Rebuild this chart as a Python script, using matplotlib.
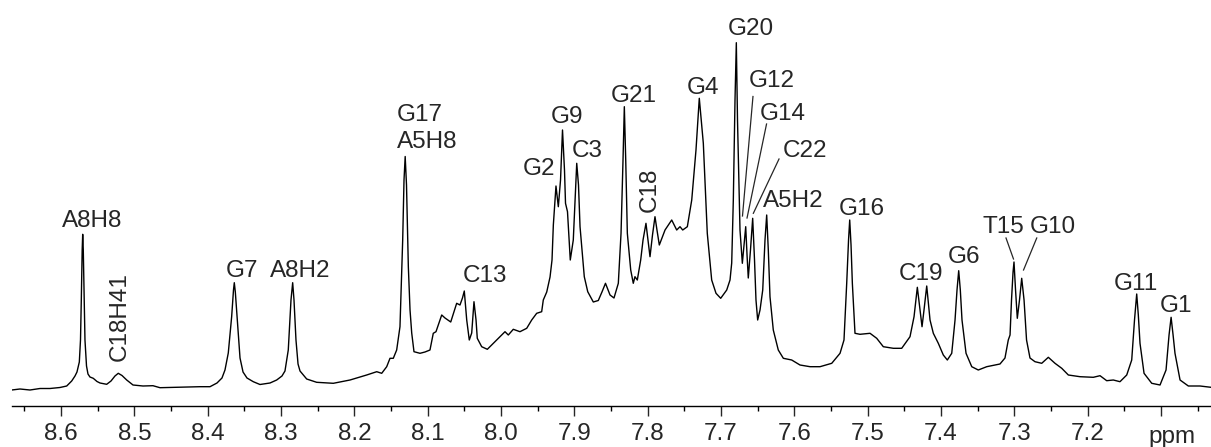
import numpy as np
import matplotlib
matplotlib.use("agg")
import matplotlib.pyplot as plt
from matplotlib.ticker import MultipleLocator, FuncFormatter

plt.rcParams['font.family'] = ['Liberation Sans', 'DejaVu Sans']

# spectrum trace: chemical shift (ppm) and intensity (a.u.)
shift = [
    8.6672, 8.6559, 8.6423, 8.6286, 8.6150, 8.6014, 8.5922, 8.5854, 8.5809, 8.5782,
    8.5750, 8.5734, 8.5723, 8.5711, 8.5704, 8.5696, 8.5684, 8.5673, 8.5652, 8.5632,
    8.5605, 8.5560, 8.5509, 8.5468, 8.5377, 8.5318, 8.5264, 8.5219, 8.5168, 8.5104,
    8.5018, 8.4882, 8.4746, 8.4650, 8.4418, 8.4241, 8.4105, 8.3968, 8.3873, 8.3805,
    8.3764, 8.3719, 8.3673, 8.3648, 8.3637, 8.3623, 8.3596, 8.3559, 8.3518, 8.3464,
    8.3378, 8.3287, 8.3150, 8.3059, 8.2987, 8.2946, 8.2901, 8.2864, 8.2841, 8.2823,
    8.2796, 8.2768, 8.2741, 8.2650, 8.2514, 8.2287, 8.2059, 8.1832, 8.1695, 8.1627,
    8.1559, 8.1514, 8.1469, 8.1423, 8.1378, 8.1341, 8.1323, 8.1307, 8.1289, 8.1264,
    8.1241, 8.1218, 8.1187, 8.1105, 8.1037, 8.0969, 8.0924, 8.0887, 8.0809, 8.0764,
    8.0686, 8.0605, 8.0560, 8.0526, 8.0501, 8.0468, 8.0433, 8.0400, 8.0369, 8.0341,
    8.0324, 8.0264, 8.0187, 8.0059, 7.9946, 7.9901, 7.9833, 7.9742, 7.9650, 7.9582,
    7.9514, 7.9446, 7.9424, 7.9377, 7.9332, 7.9305, 7.9287, 7.9251, 7.9219, 7.9189,
    7.9162, 7.9135, 7.9121, 7.9094, 7.9056, 7.9015, 7.8968, 7.8944, 7.8923, 7.8865,
    7.8818, 7.8742, 7.8674, 7.8624, 7.8576, 7.8514, 7.8460, 7.8401, 7.8364, 7.8337,
    7.8319, 7.8300, 7.8278, 7.8232, 7.8197, 7.8174, 7.8142, 7.8096, 7.8064, 7.8024,
    7.7996, 7.7969, 7.7935, 7.7901, 7.7874, 7.7842, 7.7764, 7.7673, 7.7605, 7.7560,
    7.7523, 7.7460, 7.7400, 7.7342, 7.7297, 7.7242, 7.7188, 7.7128, 7.7069, 7.7005,
    7.6923, 7.6878, 7.6855, 7.6833, 7.6810, 7.6792, 7.6776, 7.6762, 7.6742, 7.6710,
    7.6687, 7.6664, 7.6646, 7.6629, 7.6599, 7.6569, 7.6544, 7.6524, 7.6501, 7.6469,
    7.6432, 7.6401, 7.6378, 7.6356, 7.6333, 7.6288, 7.6220, 7.6151, 7.6037, 7.5924,
    7.5787, 7.5651, 7.5491, 7.5378, 7.5324, 7.5287, 7.5262, 7.5246, 7.5228, 7.5210,
    7.5174, 7.5106, 7.4969, 7.4878, 7.4788, 7.4651, 7.4537, 7.4424, 7.4369, 7.4324,
    7.4287, 7.4260, 7.4233, 7.4196, 7.4151, 7.4106, 7.4038, 7.3970, 7.3915, 7.3855,
    7.3810, 7.3783, 7.3760, 7.3738, 7.3715, 7.3660, 7.3582, 7.3493, 7.3378, 7.3197,
    7.3129, 7.3084, 7.3060, 7.3040, 7.3019, 7.3006, 7.2985, 7.2961, 7.2931, 7.2901,
    7.2869, 7.2835, 7.2788, 7.2720, 7.2628, 7.2538, 7.2447, 7.2355, 7.2265, 7.2106,
    7.1925, 7.1833, 7.1742, 7.1652, 7.1561, 7.1469, 7.1401, 7.1363, 7.1333, 7.1311,
    7.1288, 7.1233, 7.1128, 7.1015, 7.0933, 7.0892, 7.0864, 7.0837, 7.0811, 7.0742,
    7.0629, 7.0470, 7.0320,
]
intensity = [
    16, 17, 16, 17.5, 17.5, 18.5, 20, 25, 30, 34,
    44, 66, 106, 156, 171.7, 156, 106, 66, 40, 32,
    29, 27.7, 24.5, 23, 21.7, 25, 30, 32.7, 30.5, 26,
    21, 20, 20.3, 18.3, 18.7, 19, 19.3, 19.3, 23, 28,
    36, 53, 89.3, 116, 123.3, 114, 86, 48, 34, 28,
    24.3, 21.5, 23, 26, 30, 35, 56, 106, 123.3, 106,
    66, 42, 35, 27, 23.7, 22.7, 26, 31, 34.3, 32.7,
    39.3, 47.7, 47.7, 56, 79.3, 166, 226, 249.5, 221, 139.3,
    96, 73, 54.3, 52.7, 54, 56, 72.7, 74.3, 91, 88,
    84, 102.7, 101, 108, 115, 86, 66, 73, 104.3, 86,
    67.7, 59.3, 56.7, 66, 74.3, 71, 76.7, 74.3, 77.7, 86,
    92.7, 94.3, 106, 114, 129, 146, 181, 220, 199.3, 226,
    276, 236, 202.7, 194.3, 146, 166, 242.7, 221, 179.3, 129.3,
    114.3, 104, 105.5, 114, 122.7, 111, 108, 122.7, 172.7, 246,
    299.3, 246, 172.7, 136, 122.7, 129.3, 126, 146, 166, 182.7,
    166, 149.3, 171, 189.3, 176, 161, 176, 186, 176, 179.3,
    176, 179.3, 206, 256, 307.7, 262.7, 172.7, 126, 112.7, 107.7,
    116, 126, 143, 206, 306, 363.3, 286, 241, 176, 142.7,
    161, 179.3, 151, 128, 156, 187.7, 146, 106, 86, 96,
    116, 166, 191, 156, 109.3, 76, 56, 47.7, 46, 41,
    39.3, 39.3, 42.7, 52.7, 66, 122.7, 166, 186, 161, 122.7,
    72.7, 71.7, 72.7, 67.7, 59.3, 57.7, 57.7, 69.3, 89.3, 118.7,
    96, 79.3, 96, 120, 86, 72.7, 62.7, 51, 46, 52.7,
    86, 116, 135.3, 116, 86, 52.7, 39.3, 36, 39.3, 42,
    48, 66, 71, 106, 134, 144, 116, 87.7, 106, 127.7,
    106, 66, 48, 44.3, 42.7, 48.7, 42.7, 37.7, 31, 29.3,
    28.7, 30.3, 25.3, 26, 24.3, 31, 46, 86, 112, 91,
    62.7, 32.7, 22.7, 21, 36, 71, 88.7, 71, 52.7, 26,
    20, 20, 18.7,
]

# peak assignments: label, ppm, height of text baseline
labels = ["A8H8", "G7", "A8H2", "C13", "G2", "G9", "C3", "G21", "G4", "G20",
          "G12", "G14", "C22", "A5H2", "G16", "C19", "G6", "T15", "G10", "G11", "G1"]
label_ppm = [8.5581, 8.3532, 8.2734, 8.0212, 7.9482, 7.9105, 7.8828, 7.8187, 7.7246, 7.6599,
             7.6306, 7.6162, 7.5856, 7.6019, 7.5088, 7.4274, 7.3690, 7.3156, 7.2474, 7.1342, 7.0804]
label_y = [179.3, 129.3, 129.3, 124.3, 231, 282.7, 249.3, 304.3, 312, 371,
           318.7, 286, 249, 199, 191, 126, 142.7, 172.7, 172.7, 116, 94.3]

# rotated labels
vlabels = ["C18H41", "C18"]
vlabel_ppm = [8.5196, 7.7969]
vlabel_y = [89.3, 216]

# two-line label left aligned
stack_lines = ["G17", "A5H8"]
stack_ppm = 8.1419
stack_y = [285.3, 257.7]

# leader lines: (ppm start, y start, ppm end, y end)
leaders = [
    (7.6565, 309.5, 7.6708, 190),   # G12
    (7.6380, 282, 7.6646, 188),     # G14
    (7.6210, 247, 7.6560, 192.7),   # C22
    (7.3115, 168, 7.3013, 147),     # T15
    (7.2696, 168, 7.2876, 136),     # G10
]

fig = plt.figure(figsize=(12.11, 4.47), dpi=100)
ax = fig.add_axes([11.7 / 1211, 41 / 447, 1 - 11.7 / 1211, 406 / 447])

ax.plot(shift, intensity, color='black', lw=1.0)

txt_kw = dict(fontsize=17.5, color='#262626')
for name, px, py in zip(labels, label_ppm, label_y):
    ax.text(px, py, name, ha='center', va='baseline', **txt_kw)
for name, px, py in zip(vlabels, vlabel_ppm, vlabel_y):
    ax.text(px, py, name, ha='center', va='center', rotation=90, **txt_kw)
for name, py in zip(stack_lines, stack_y):
    ax.text(stack_ppm, py, name, ha='left', va='baseline', **txt_kw)
for x0, y0, x1, y1 in leaders:
    ax.plot([x0, x1], [y0, y1], color='#262626', lw=0.9)

ax.set_xlim(8.6672, 7.032)
ax.set_ylim(0, 406)

for s in ['left', 'top', 'right']:
    ax.spines[s].set_visible(False)
ax.spines['bottom'].set_linewidth(1.0)
ax.set_yticks([])
ax.xaxis.set_major_locator(MultipleLocator(0.1))
ax.xaxis.set_minor_locator(MultipleLocator(0.05))
ax.xaxis.set_major_formatter(FuncFormatter(lambda v, p: '' if v < 7.15 else '%.1f' % v))
ax.tick_params(axis='x', which='major', direction='out', length=7.2, width=1.0,
               labelsize=17.5, pad=5, colors='#262626')
ax.tick_params(axis='x', which='minor', direction='out', length=3.6, width=1.0)
ax.text(7.085, -37 / 406, 'ppm', transform=ax.get_xaxis_transform(), ha='center',
        va='baseline', **txt_kw)
ax.patch.set_visible(False)

fig.savefig('out.png', dpi=100)
